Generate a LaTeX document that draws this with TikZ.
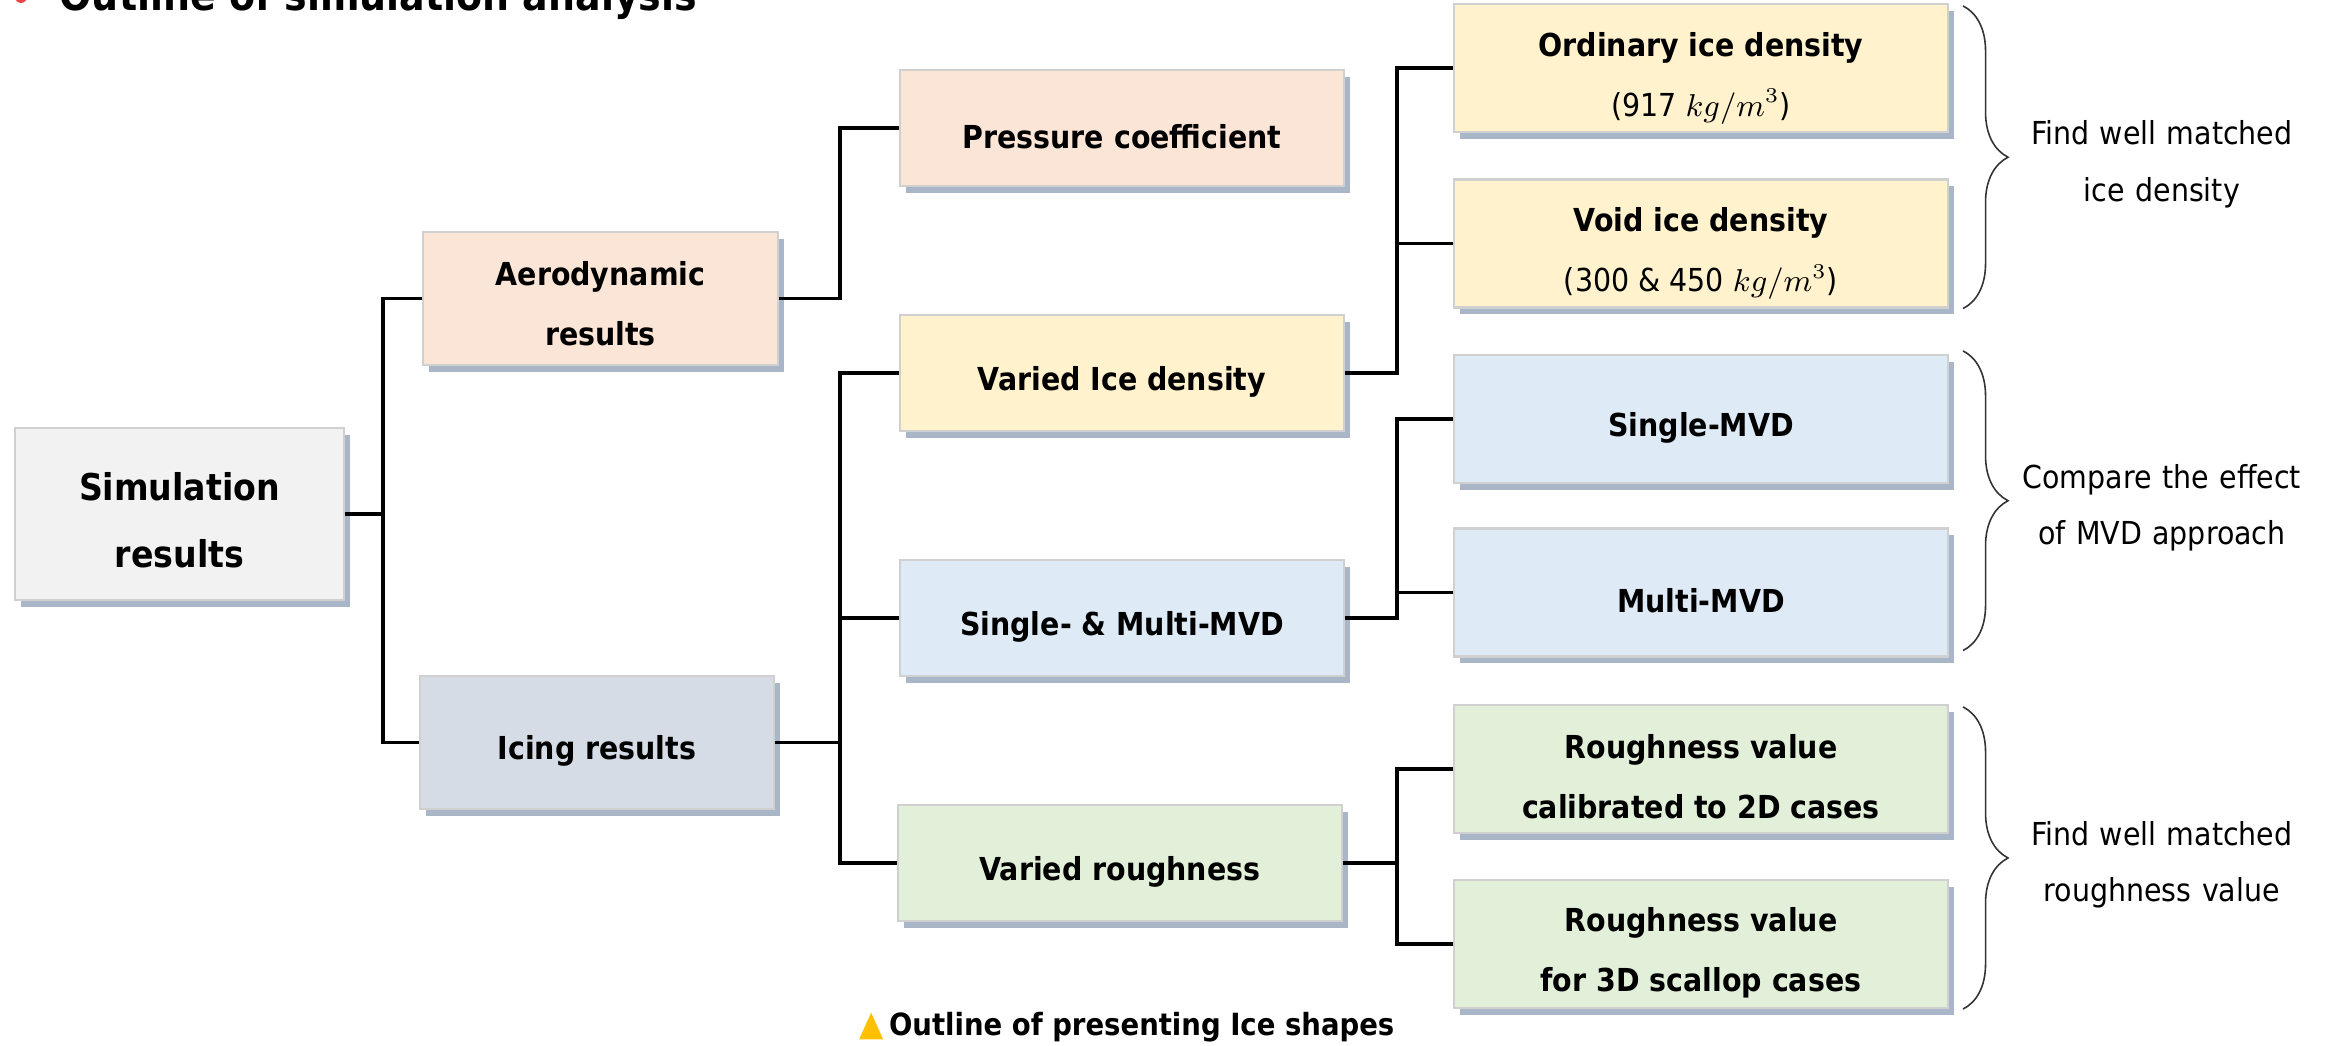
\documentclass[tikz,border=0pt]{standalone}
\usepackage{fontspec}
\setmainfont{DejaVu Sans Condensed}
\definecolor{peach}{RGB}{251,229,214}
\definecolor{slate}{RGB}{214,220,229}
\definecolor{cream}{RGB}{255,242,204}
\definecolor{sky}{RGB}{222,235,247}
\definecolor{mint}{RGB}{226,240,217}
\definecolor{pale}{RGB}{242,242,242}
\definecolor{rim}{RGB}{208,208,208}
\definecolor{shadowc}{RGB}{132,151,176}
\definecolor{gold}{RGB}{255,192,0}
\definecolor{titlered}{RGB}{230,70,70}
\usetikzlibrary{positioning,calc,shadows,decorations.pathreplacing}
\newcommand{\lift}[1][1.4em]{\rule{0pt}{#1}}

\begin{document}
\begin{tikzpicture}[
    box/.style={draw=rim,line width=0.6pt,minimum width=4.44cm,minimum height=1.16cm,align=center,inner ysep=1pt,
      font=\bfseries\fontsize{9}{17}\selectfont,execute at begin node={\rule{0pt}{1.3em}},
      drop shadow={shadow xshift=0.06cm,shadow yshift=-0.07cm,fill=shadowc,opacity=0.7}},
    link/.style={line width=0.9pt},
    brace/.style={decorate,decoration={brace,amplitude=4.5mm},draw=black!80,line width=0.45pt},
    blabel/.style={text width=2.9cm,align=center,inner sep=0pt,font=\fontsize{9}{16}\selectfont}]
        \useasboundingbox (0,0) rectangle (23.28,10.46);
        \node[circle,fill=titlered,inner sep=0pt,minimum size=1.2mm] (dot) at (0.21,10.49) {};
        \node[anchor=base west,inner sep=0pt,font=\bfseries\fontsize{12}{14}\selectfont] (title) at (0.59,10.35) {Outline of simulation analysis};
        % tree
        \node[box,fill=pale,minimum width=3.29cm,minimum height=1.72cm,font=\bfseries\fontsize{10.5}{19}\selectfont] (sim) at (1.795,5.32) {\lift[1.1em]Simulation\\results};
        \node[box,fill=peach,minimum width=3.55cm,minimum height=1.33cm] (aero) at (6.005,7.475) {\lift[1.1em]Aerodynamic\\results};
        \node[box,fill=slate,minimum width=3.54cm,minimum height=1.33cm] (icing) at (5.97,3.035) {Icing results};
        \node[box,fill=peach] (press) at (11.22,9.18) {Pressure coefficient};
        \node[box,fill=cream] (varice) at (11.22,6.73) {Varied Ice density};
        \node[box,fill=sky] (smmvd) at (11.22,4.28) {Single- \& Multi-MVD};
        \node[box,fill=mint] (rough) at (11.20,1.83) {Varied roughness};
        \node[box,fill=cream,minimum width=4.94cm,minimum height=1.28cm] (ord) at (17.01,9.78) {\lift Ordinary ice density\\\mdseries(917 $kg/m^3$)};
        \node[box,fill=cream,minimum width=4.94cm,minimum height=1.28cm] (void) at (17.01,8.025) {\lift Void ice density\\\mdseries(300 \& 450 $kg/m^3$)};
        \node[box,fill=sky,minimum width=4.94cm,minimum height=1.28cm] (single) at (17.01,6.27) {Single-MVD};
        \node[box,fill=sky,minimum width=4.94cm,minimum height=1.28cm] (multi) at (17.01,4.535) {Multi-MVD};
        \node[box,fill=mint,minimum width=4.94cm,minimum height=1.28cm] (rcal) at (17.01,2.77) {\lift[1.25em]Roughness value\\calibrated to 2D cases};
        \node[box,fill=mint,minimum width=4.94cm,minimum height=1.28cm] (rscal) at (17.01,1.02) {\lift[1.33em]Roughness value\\for 3D scallop cases};
        \coordinate (c1) at (3.83,0);
        \coordinate (c2) at (8.40,0);
        \coordinate (c3) at (13.97,0);
        \draw[link] (sim.east) -- (sim.east -| c1) |- (aero.west);
        \draw[link] (sim.east -| c1) |- (icing.west);
        \draw[link] (aero.east) -- (aero.east -| c2) |- (press.west);
        \foreach \n in {varice,smmvd,rough} \draw[link] (icing.east) -- (icing.east -| c2) |- (\n.west);
        \foreach \a/\b/\c in {varice/ord/void,smmvd/single/multi,rough/rcal/rscal} {
          \draw[link] (\a.east) -- (\a.east -| c3) |- (\b.west);
          \draw[link] (\a.east -| c3) |- (\c.west);
        }
        % braces
        \draw[brace] ($(ord.north east)+(0.14,-0.03)$) -- ($(void.south east)+(0.14,0)$)
          node[blabel,midway,anchor=west,xshift=5.3mm,yshift=-0.7mm] (lab1) {Find well matched\\ice density};
        \draw[brace] ($(single.north east)+(0.14,0.03)$) -- ($(multi.south east)+(0.14,0.07)$)
          node[blabel,midway,anchor=west,xshift=5.3mm,yshift=-0.7mm] (lab2) {Compare the effect\\of MVD approach};
        \draw[brace] ($(rcal.north east)+(0.14,-0.03)$) -- ($(rscal.south east)+(0.14,0)$)
          node[blabel,midway,anchor=west,xshift=5.3mm,yshift=-0.7mm] (lab3) {Find well matched\\roughness value};
        \node[inner sep=0pt,font=\bfseries\fontsize{8.7}{11}\selectfont] (cap) at (11.27,0.19) {\textcolor{gold}{\fontsize{10}{11}\selectfont ▲}\,Outline of presenting Ice shapes};
\end{tikzpicture}
\end{document}
